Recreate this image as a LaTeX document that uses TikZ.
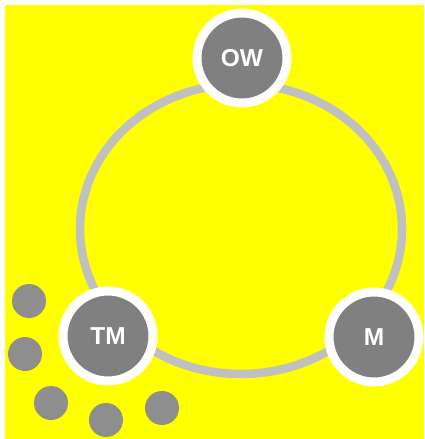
\documentclass[tikz,border=0pt]{standalone}
\usepackage{fontspec}
\setmainfont{Liberation Sans}
\usepackage{tikz}
\definecolor{sari}{HTML}{FFFF00}
\definecolor{halkaGri}{HTML}{C0C0C0}
\definecolor{koyuGri}{HTML}{808080}
\definecolor{noktaGri}{HTML}{8E8E8E}
\tikzset{
  rol/.style={circle,fill=koyuGri,draw=white,line width=9pt,minimum size=90pt,inner sep=0pt,
    text=white,font=\fontsize{24.5}{24.5}\selectfont\bfseries},
  nokta/.style={circle,fill=noktaGri,minimum size=34pt,inner sep=0pt}
}
\begin{document}
\begin{tikzpicture}[x=1pt,y=-1pt]
\useasboundingbox (0,0) rectangle (424,439);
\fill[white] (0,0) rectangle (424,439);
\fill[sari] (5,5) rectangle (424,439);
\draw[halkaGri,line width=8.5pt] (241,229) ellipse [x radius=161pt,y radius=145pt];
\node[rol] (ow) at (242,58) {OW};
\node[rol] (tm) at (108,336) {TM};
\node[rol] (m) at (374,337) {M};
\node[nokta] (n1) at (29,301) {};
\node[nokta] (n2) at (25,354) {};
\node[nokta] (n3) at (51,403) {};
\node[nokta] (n4) at (106,420) {};
\node[nokta] (n5) at (162,408) {};
\end{tikzpicture}
\end{document}
